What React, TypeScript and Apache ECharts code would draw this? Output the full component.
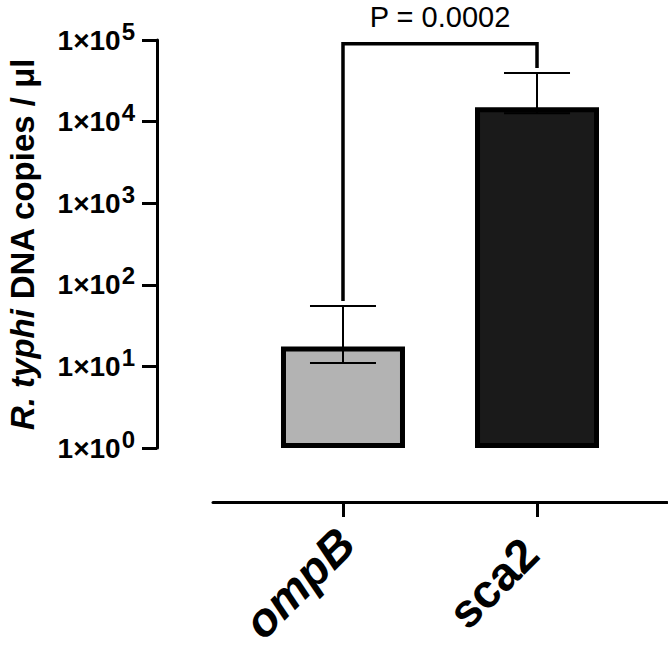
import React, { useEffect, useRef } from "react";
import * as echarts from "echarts";

// Gene targets and their copy numbers (mean with error range)
const categories = ["ompB", "sca2"];
const means = [17.5, 15000];
const errLow = [11, 12700];
const errHigh = [55, 39500];
const barColors = ["#b3b3b3", "#1a1a1a"];
const italicCategories = ["ompB"];

// Significance bracket between the two targets
const bracketTop = 90000;
const pLabel = "P = 0.0002";

const yMin = 1;
const yMax = 100000;

const FONT = '"Liberation Sans", Arial, Helvetica, sans-serif';

export default function App() {
  const ref = useRef<HTMLDivElement>(null);

  useEffect(() => {
    const chart = echarts.init(ref.current as HTMLDivElement, null, { renderer: "svg" });
    const xs = categories.map((_, i) => i + 1);

    chart.setOption({
      animation: false,
      backgroundColor: "#ffffff",
      textStyle: { fontFamily: FONT, color: "#000" },
      grid: {
        left: 213,
        right: 1,
        top: 40,
        bottom: 200,
        containLabel: false,
        outerBoundsMode: "none",
      },
      xAxis: {
        type: "value",
        min: 0.33,
        max: 2.67,
        offset: 54,
        splitLine: { show: false },
        axisLine: { show: true, lineStyle: { color: "#000", width: 3 } },
        axisTick: {
          show: true,
          customValues: xs,
          length: 15,
          lineStyle: { color: "#000", width: 3 },
        },
        axisLabel: {
          customValues: xs,
          rotate: 45,
          margin: 37,
          align: "center",
          verticalAlign: "middle",
          padding: [0, 124, 0, 0],
          hideOverlap: false,
          formatter: (v: number) => {
            const name = categories[Math.round(v) - 1] ?? "";
            return italicCategories.includes(name) ? `{i|${name}}` : `{b|${name}}`;
          },
          rich: {
            i: { fontFamily: FONT, fontSize: 47, fontWeight: "bold", fontStyle: "italic", color: "#000" },
            b: { fontFamily: FONT, fontSize: 47, fontWeight: "bold", color: "#000" },
          },
        },
      },
      yAxis: {
        type: "log",
        logBase: 10,
        min: yMin,
        max: yMax,
        offset: 56,
        name: "{i|R. typhi}{b| DNA copies / μl}",
        nameLocation: "middle",
        nameRotate: 90,
        nameGap: 118,
        nameTextStyle: {
          rich: {
            i: { fontFamily: FONT, fontSize: 33, fontWeight: "bold", fontStyle: "italic", color: "#000" },
            b: { fontFamily: FONT, fontSize: 33, fontWeight: "bold", color: "#000" },
          },
        },
        splitLine: { show: false },
        axisLine: { show: true, lineStyle: { color: "#000", width: 3 } },
        axisTick: { show: true, length: 15, lineStyle: { color: "#000", width: 3 } },
        axisLabel: {
          margin: 22,
          formatter: (v: number) => `{m|1×10}{s|${Math.round(Math.log10(v))}}`,
          rich: {
            m: {
              fontFamily: FONT,
              fontSize: 28,
              fontWeight: "bold",
              color: "#000",
              lineHeight: 42,
              verticalAlign: "middle",
            },
            s: {
              fontFamily: FONT,
              fontSize: 24,
              fontWeight: "bold",
              color: "#000",
              lineHeight: 24,
              verticalAlign: "top",
              padding: [0, 0, 0, 1],
            },
          },
        },
      },
      series: [
        {
          type: "bar",
          barWidth: 124,
          itemStyle: { borderColor: "#000", borderWidth: 5 },
          data: categories.map((_, i) => ({
            value: [i + 1, means[i]],
            itemStyle: { color: barColors[i], borderColor: "#000", borderWidth: 5 },
          })),
          z: 2,
        },
        {
          type: "custom",
          z: 3,
          data: categories.map((_, i) => [i + 1, errLow[i], errHigh[i]]),
          encode: { x: 0, y: [1, 2] },
          renderItem: (_params: any, api: any) => {
            const x = api.value(0);
            const lo = api.coord([x, api.value(1)]);
            const hi = api.coord([x, api.value(2)]);
            const half = 33;
            const style = { stroke: "#000", lineWidth: 2 };
            return {
              type: "group",
              children: [
                { type: "line", shape: { x1: lo[0], y1: lo[1], x2: hi[0], y2: hi[1] }, style },
                { type: "line", shape: { x1: hi[0] - half, y1: hi[1], x2: hi[0] + half, y2: hi[1] }, style },
                { type: "line", shape: { x1: lo[0] - half, y1: lo[1], x2: lo[0] + half, y2: lo[1] }, style },
              ],
            };
          },
        },
        {
          type: "custom",
          z: 4,
          clip: false,
          data: [[1, 2, bracketTop, errHigh[0], errHigh[1]]],
          encode: { x: [0, 1], y: [2, 3, 4] },
          renderItem: (_params: any, api: any) => {
            const top = api.coord([api.value(0), api.value(2)]);
            const left = api.coord([api.value(0), api.value(3)]);
            const right = api.coord([api.value(1), api.value(4)]);
            const gap = 5;
            const topY = top[1];
            return {
              type: "group",
              children: [
                {
                  type: "polyline",
                  shape: {
                    points: [
                      [left[0], left[1] - gap],
                      [left[0], topY],
                      [right[0], topY],
                      [right[0], right[1] - gap],
                    ],
                  },
                  style: { stroke: "#000", lineWidth: 3.5, fill: "none", lineJoin: "miter" },
                },
                {
                  type: "text",
                  x: (left[0] + right[0]) / 2,
                  y: topY - 27,
                  style: {
                    text: pLabel,
                    fontFamily: FONT,
                    fontSize: 29,
                    fill: "#000",
                    align: "center",
                    verticalAlign: "middle",
                  },
                },
              ],
            };
          },
        },
      ],
    });

    return () => {
      chart.dispose();
    };
  }, []);

  return (
    <div
      ref={ref}
      style={{ position: "absolute", left: 0, top: 0, width: 668, height: 648, background: "#fff" }}
    />
  );
}
